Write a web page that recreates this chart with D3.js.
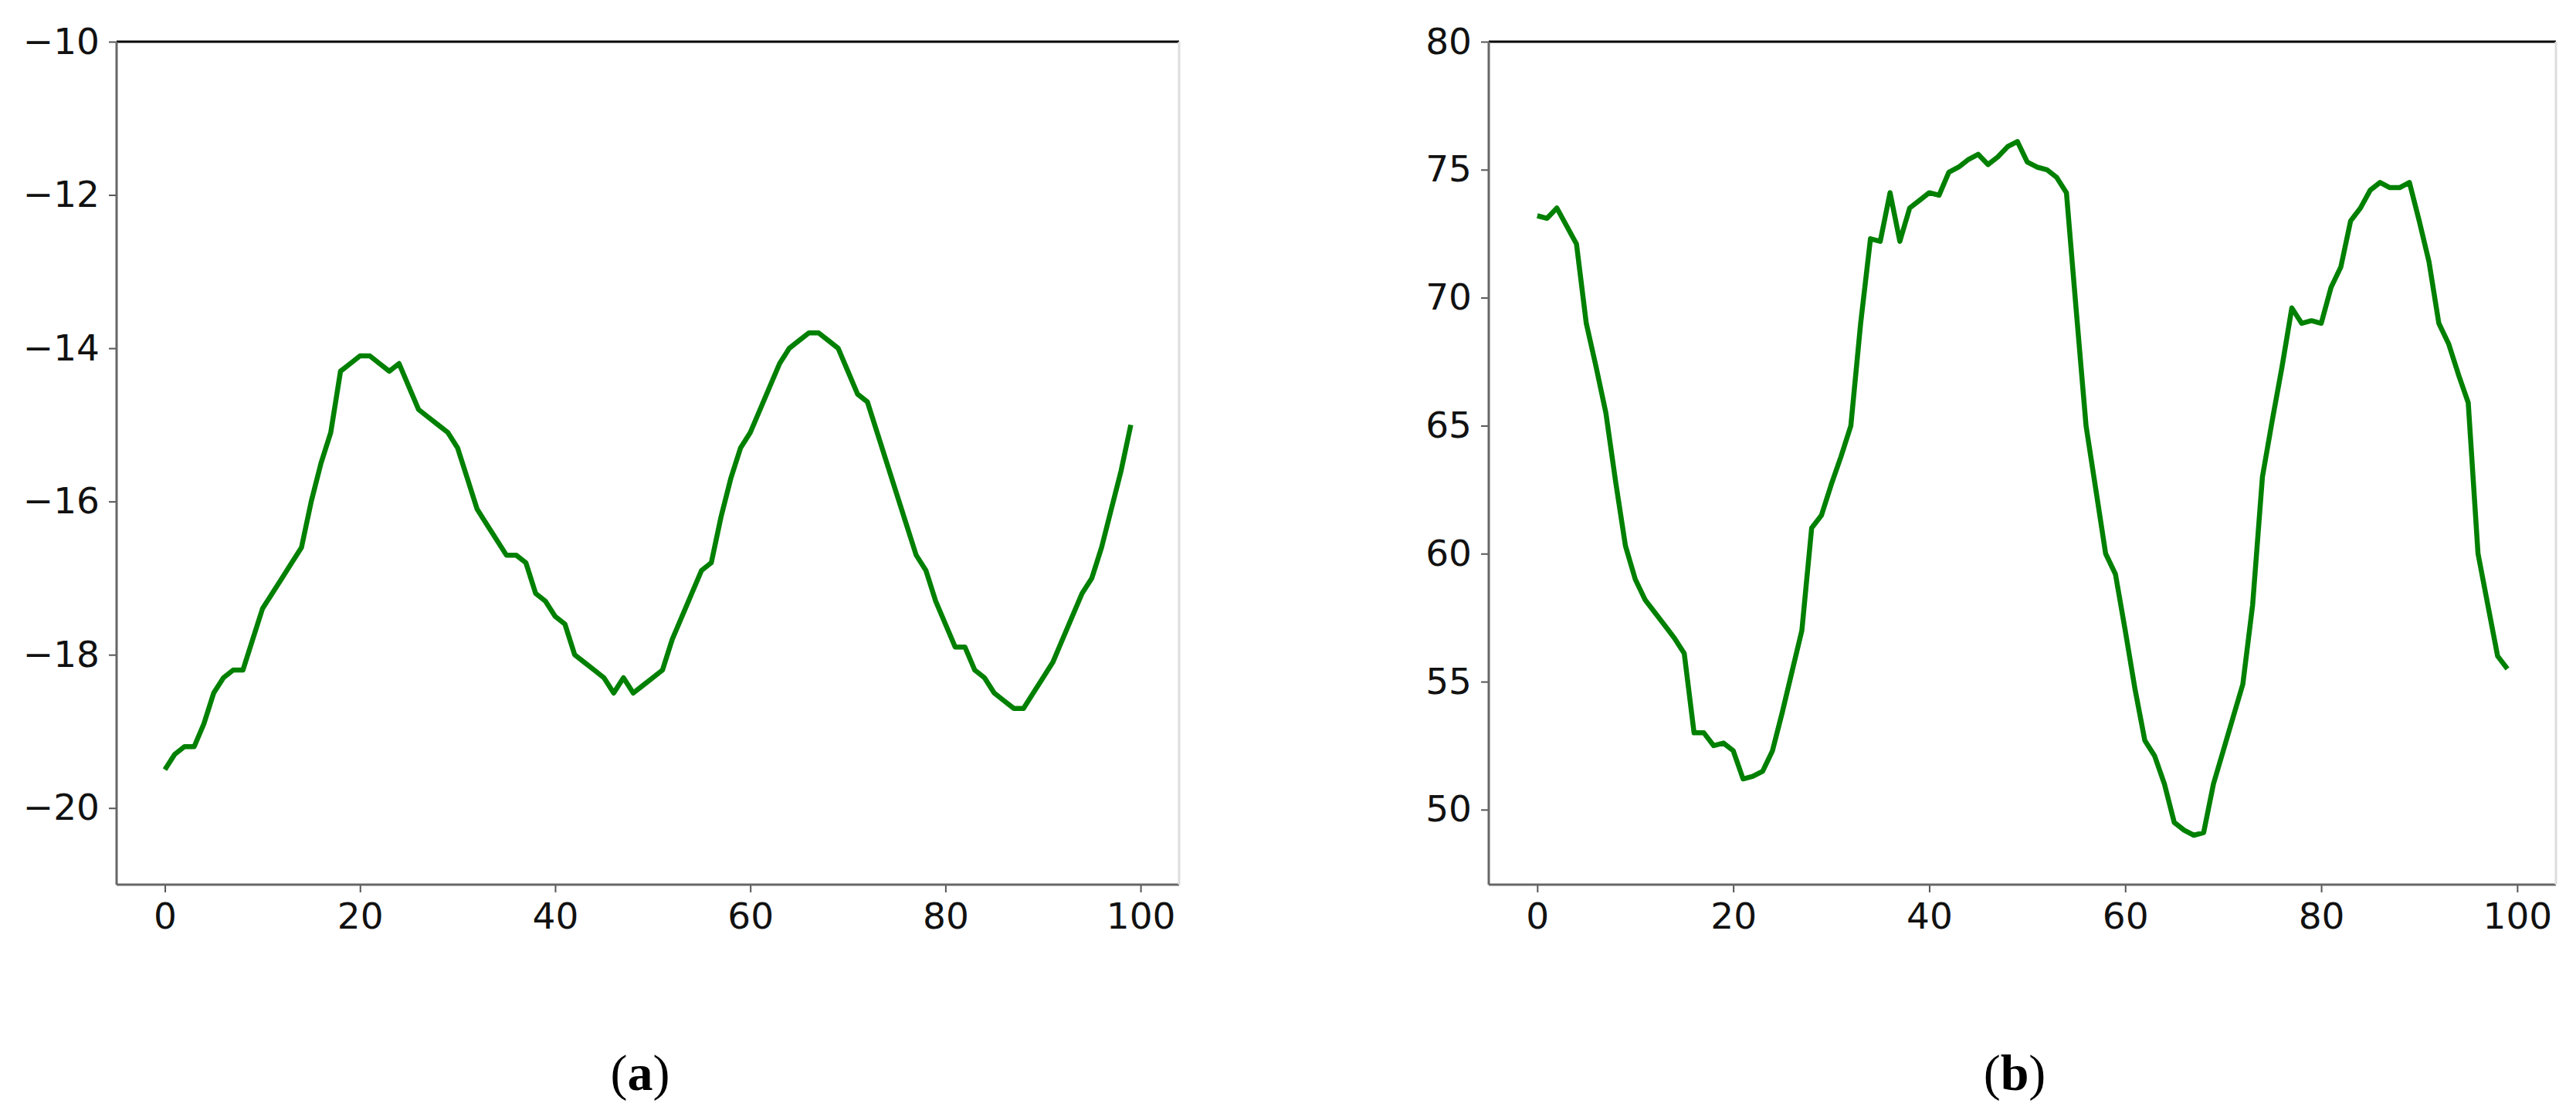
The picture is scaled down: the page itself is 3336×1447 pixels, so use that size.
<!DOCTYPE html>
<html>
<head>
<meta charset="utf-8">
<script src="https://cdn.jsdelivr.net/npm/d3@7"></script>
<style>
  body { margin: 0; background: #fff; }
  .tick text { font-family: "DejaVu Sans", sans-serif; font-size: 47px; fill: #111; }
  .cap { font-family: "Liberation Serif", serif; font-size: 66px; }
</style>
</head>
<body>
<svg id="chart" width="3336" height="1447"></svg>
<script>
var valuesA = [-19.5,-19.3,-19.2,-19.2,-18.9,-18.5,-18.3,-18.2,-18.2,-17.8,
    -17.4,-17.2,-17.0,-16.8,-16.6,-16.0,-15.5,-15.1,-14.3,-14.2,
    -14.1,-14.1,-14.2,-14.3,-14.2,-14.5,-14.8,-14.9,-15.0,-15.1,
    -15.3,-15.7,-16.1,-16.3,-16.5,-16.7,-16.7,-16.8,-17.2,-17.3,
    -17.5,-17.6,-18.0,-18.1,-18.2,-18.3,-18.5,-18.3,-18.5,-18.4,
    -18.3,-18.2,-17.8,-17.5,-17.2,-16.9,-16.8,-16.2,-15.7,-15.3,
    -15.1,-14.8,-14.5,-14.2,-14.0,-13.9,-13.8,-13.8,-13.9,-14.0,
    -14.3,-14.6,-14.7,-15.1,-15.5,-15.9,-16.3,-16.7,-16.9,-17.3,
    -17.6,-17.9,-17.9,-18.2,-18.3,-18.5,-18.6,-18.7,-18.7,-18.5,
    -18.3,-18.1,-17.8,-17.5,-17.2,-17.0,-16.6,-16.1,-15.6,-15.0];
var valuesB = [73.2,73.1,73.5,72.8,72.1,69.0,67.3,65.5,62.8,60.3,
    59.0,58.2,57.7,57.2,56.7,56.1,53.0,53.0,52.5,52.6,
    52.3,51.2,51.3,51.5,52.3,53.8,55.4,57.0,61.0,61.5,
    62.7,63.8,65.0,69.0,72.3,72.2,74.1,72.2,73.5,73.8,
    74.1,74.0,74.9,75.1,75.4,75.6,75.2,75.5,75.9,76.1,
    75.3,75.1,75.0,74.7,74.1,69.5,65.0,62.5,60.0,59.2,
    57.0,54.7,52.7,52.1,51.0,49.5,49.2,49.0,49.1,51.0,
    52.3,53.6,54.9,58.0,63.0,65.2,67.3,69.6,69.0,69.1,
    69.0,70.4,71.2,73.0,73.5,74.2,74.5,74.3,74.3,74.5,
    73.0,71.4,69.0,68.2,67.0,65.9,60.0,58.0,56.0,55.5];
var xTicks = [0, 20, 40, 60, 80, 100];
var yTicksA = [-20, -18, -16, -14, -12, -10];
var yTicksB = [50, 55, 60, 65, 70, 75, 80];

var svg = d3.select("#chart");

function drawPanel(left, right, values, yDomain, yTicks, label) {
    var top = 54, bottom = 1146;
    var x = d3.scaleLinear().domain([-4.95, 103.95]).range([left, right]);
    var y = d3.scaleLinear().domain(yDomain).range([bottom, top]);
    var g = svg.append("g");
    var fmt = d => (d < 0 ? "\u2212" + Math.abs(d) : String(d));

    // axes
    var xa = g.append("g").attr("transform", "translate(0," + bottom + ")")
        .call(d3.axisBottom(x).tickValues(xTicks).tickFormat(fmt).tickSize(10).tickPadding(14));
    var ya = g.append("g").attr("transform", "translate(" + left + ",0)")
        .call(d3.axisLeft(y).tickValues(yTicks).tickFormat(fmt).tickSize(10).tickPadding(12));
    for (let a of [xa, ya]) {
        a.select(".domain").remove();
        a.selectAll(".tick line").attr("stroke", "#555").attr("stroke-width", 2);
    }

    // spines
    g.append("line").attr("x1", left).attr("x2", right).attr("y1", top).attr("y2", top)
        .attr("stroke", "#000").attr("stroke-width", 3);
    g.append("line").attr("x1", left).attr("x2", right).attr("y1", bottom).attr("y2", bottom)
        .attr("stroke", "#666").attr("stroke-width", 3);
    g.append("line").attr("x1", left).attr("x2", left).attr("y1", top).attr("y2", bottom)
        .attr("stroke", "#666").attr("stroke-width", 3);
    g.append("line").attr("x1", right).attr("x2", right).attr("y1", top).attr("y2", bottom)
        .attr("stroke", "#ddd").attr("stroke-width", 3);

    g.append("path").datum(values)
        .attr("fill", "none").attr("stroke", "#008000").attr("stroke-width", 6.5)
        .attr("stroke-linejoin", "round")
        .attr("d", d3.line().x((d, i) => x(i)).y(d => y(d)));

    var cap = g.append("text").attr("class", "cap").attr("x", (left + right) / 2 - 10)
        .attr("y", 1412).attr("text-anchor", "middle");
    cap.append("tspan").text("(");
    cap.append("tspan").attr("font-weight", "bold").text(label);
    cap.append("tspan").text(")");
}

drawPanel(151, 1527, valuesA, [-21, -10], yTicksA, "a");
drawPanel(1928, 3310, valuesB, [47.07, 80], yTicksB, "b");
</script>
</body>
</html>
